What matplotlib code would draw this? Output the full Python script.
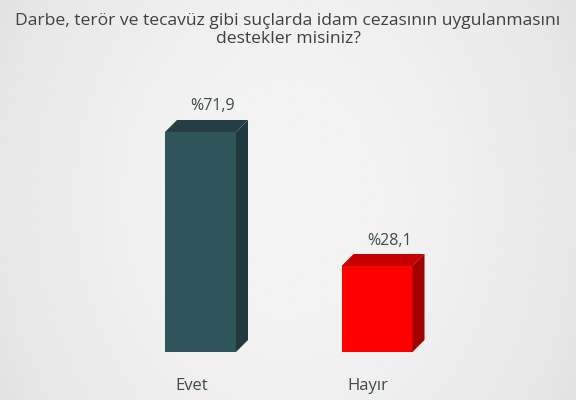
import numpy as np
import matplotlib
matplotlib.use("Agg")
import matplotlib.pyplot as plt
from matplotlib.patches import Polygon

title = "Darbe, terör ve tecavüz gibi suçlarda idam cezasının uygulanmasını\ndestekler misiniz?"
categories = ["Evet", "Hayır"]
values = [71.9, 28.1]
value_labels = ["%71,9", "%28,1"]

front_colors = ["#2f5459", "#ff0000"]
side_colors = ["#1f393d", "#a30000"]
top_colors = ["#243f43", "#c40000"]
text_color = "#3f4a4d"

plt.rcParams["font.family"] = ["Open Sans", "DejaVu Sans"]

fig = plt.figure(figsize=(5.76, 4.0), dpi=100)

# soft grey background, lighter in the middle
bg = fig.add_axes([0, 0, 1, 1])
gx, gy = np.meshgrid(np.linspace(-1, 1, 200), np.linspace(-1, 1, 140))
shade = 0.955 - 0.05 * (gx ** 2) - 0.015 * (gy ** 2)
bg.imshow(shade, cmap="gray", vmin=0, vmax=1, aspect="auto", extent=[0, 1, 0, 1])
bg.set_axis_off()

ax = fig.add_axes([0, 0.12, 1, 0.68])
ax.patch.set_alpha(0)
x = np.arange(len(categories))
px_per_unit = 3.06
ax.set_ylim(0, 272 / px_per_unit)
ax.set_xlim(-200.5 / 176.5, (576 - 200.5) / 176.5)
width = 71 / 176.5
dx = 12 / 176.5
dy = 12 / px_per_unit

ax.bar(x, values, width=width, color=front_colors, zorder=3)
for xi, v, sc, tc, lab in zip(x, values, side_colors, top_colors, value_labels):
    l, r = xi - width / 2, xi + width / 2
    ax.add_patch(Polygon([(r, 0), (r + dx, dy), (r + dx, v + dy), (r, v)],
                         closed=True, color=sc, zorder=3, lw=0))
    ax.add_patch(Polygon([(l, v), (r, v), (r + dx, v + dy), (l + dx, v + dy)],
                         closed=True, color=tc, zorder=3, lw=0))
    ax.text(xi + 0.07, v + dy + 1.8, lab, ha="center", va="bottom",
            fontsize=11.5, color=text_color)

ax.set_xticks(x - 0.05)
ax.set_xticklabels(categories, fontsize=12, color=text_color)
ax.tick_params(axis="x", length=0, pad=19)
ax.set_yticks([])
for s in ax.spines.values():
    s.set_visible(False)

fig.text(0.5, 0.925, title, ha="center", va="center", fontsize=12.6,
         color="#404040", linespacing=1.2)

fig.savefig("out.png", dpi=100)
